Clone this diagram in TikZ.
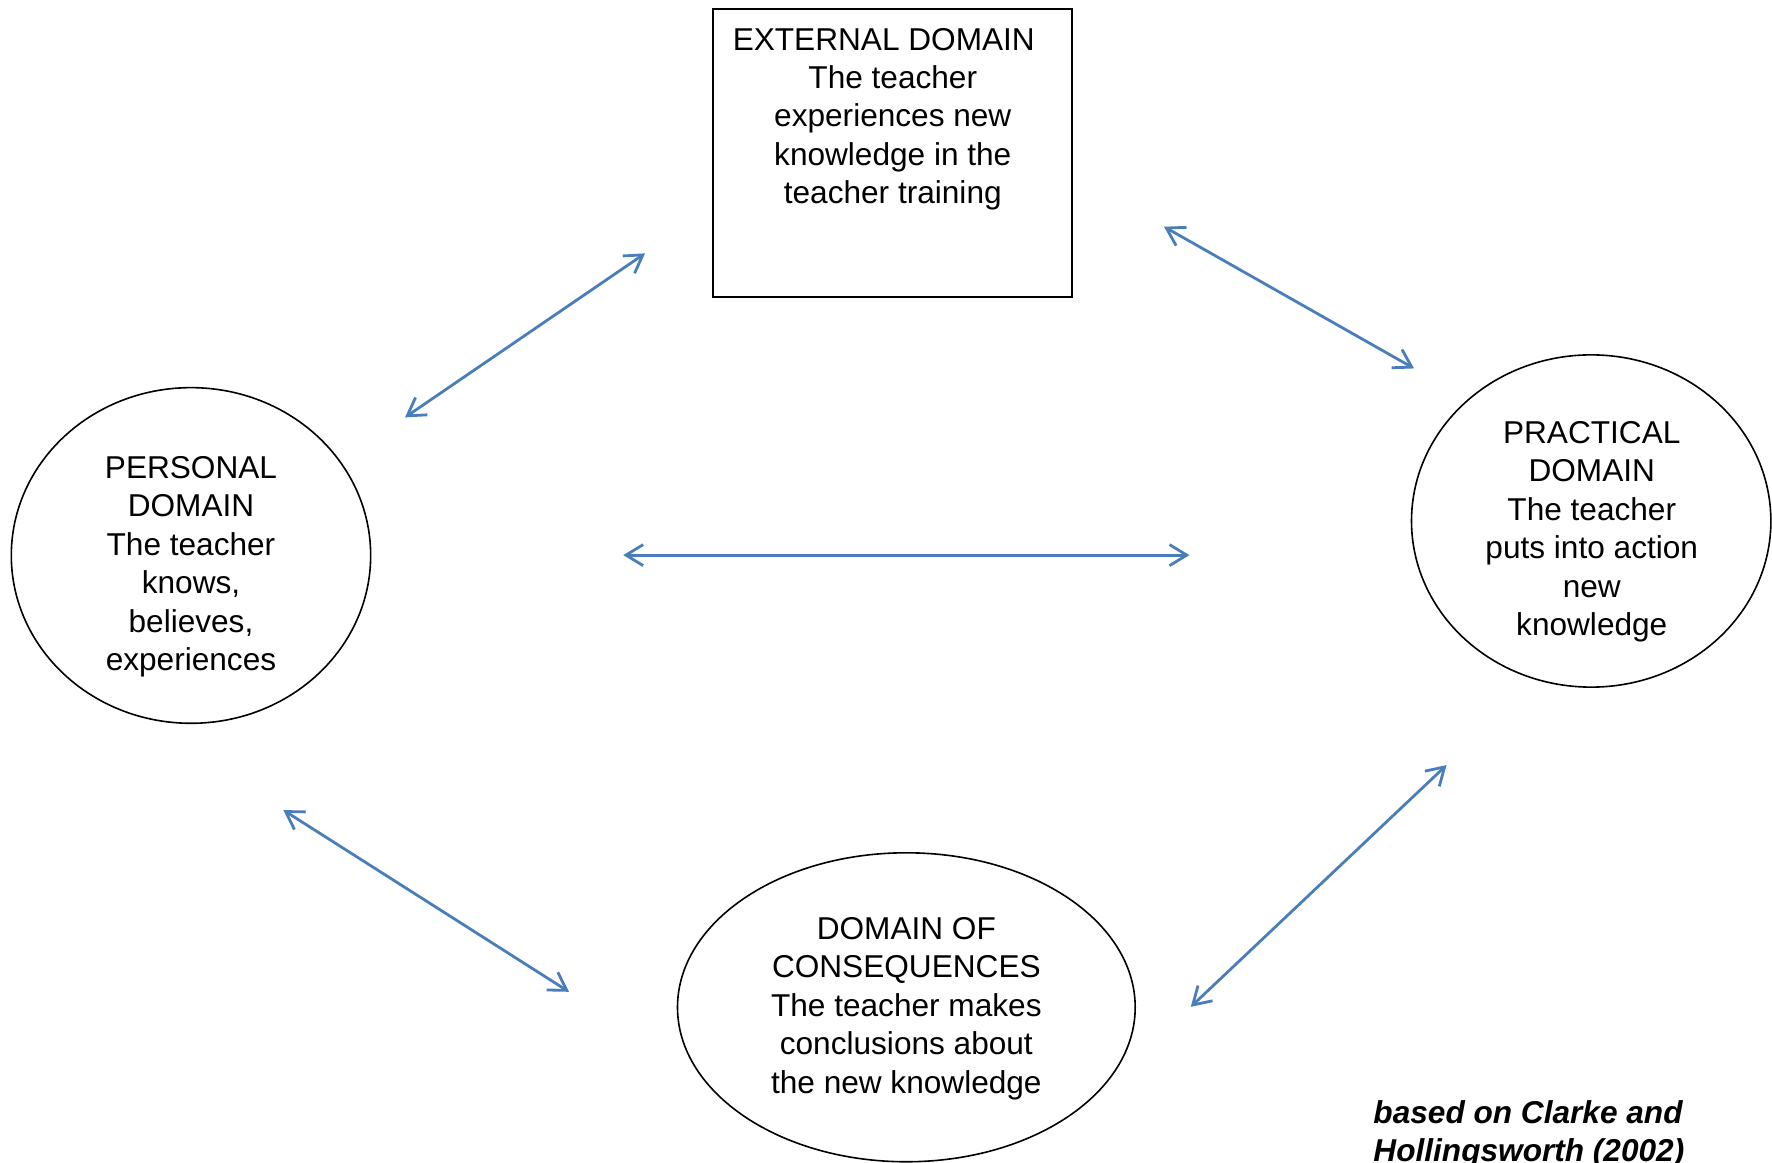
\documentclass[tikz,border=0pt]{standalone}
\usepackage{fontspec}
\setmainfont{Liberation Sans}
\usetikzlibrary{shapes.geometric,arrows.meta}
\definecolor{arrowblue}{RGB}{74,126,187}
\newcommand\firststrut{\rule{0pt}{14pt}}
\begin{document}
\begin{tikzpicture}[x=0.565pt,y=-0.565pt,
  domaintext/.style={inner sep=0pt,align=center,anchor=north,yshift=14pt,
    font=\fontsize{15.8}{19.2}\selectfont},
  domainellipse/.style={draw=black,line width=0.8pt,ellipse,inner sep=0pt},
  domainbox/.style={draw=black,line width=1pt,rectangle,inner sep=0pt,
    minimum width=318*0.565pt,minimum height=255*0.565pt},
  biarrow/.style={draw=arrowblue,line width=1.4pt,
    {Straight Barb[length=8.6pt,width=10.5pt]}-{Straight Barb[length=8.6pt,width=10.5pt]}}
]
\useasboundingbox (0,0) rectangle (1568,1029);

% shapes
\node[domainbox] (external) at (790,135.5) {};
\node[domainellipse,minimum width=318*0.565pt,minimum height=297*0.565pt] (personal) at (169,491.5) {};
\node[domainellipse,minimum width=318*0.565pt,minimum height=294*0.565pt] (practical) at (1408,461) {};
\node[domainellipse,minimum width=405*0.565pt,minimum height=273.4*0.565pt] (consequences) at (802,891.3) {};

% texts
\node[domaintext] (externaltext) at (790,44)
  {\firststrut EXTERNAL DOMAIN\hspace*{9pt}\\The teacher\\experiences new\\knowledge in the\\teacher training};
\node[domaintext] (personaltext) at (169,423)
  {\firststrut PERSONAL\\DOMAIN\\The teacher\\knows,\\believes,\\experiences};
\node[domaintext] (practicaltext) at (1408.5,392)
  {\firststrut PRACTICAL\\DOMAIN\\The teacher\\puts into action\\new\\knowledge};
\node[domaintext] (consequencestext) at (802,831)
  {\firststrut DOMAIN OF\\CONSEQUENCES\\The teacher makes\\conclusions about\\the new knowledge};
\node[domaintext,align=left,anchor=north west,font=\fontsize{15.8}{19.2}\selectfont\bfseries\itshape] (citation) at (1215,993.5)
  {\firststrut based on Clarke and\\Hollingsworth (2002)};

% arrow end points
\coordinate (a1s) at (358.4,369.3);
\coordinate (a1e) at (570.8,224.2);
\coordinate (a2s) at (1030,200.6);
\coordinate (a2e) at (1251.3,326);
\coordinate (a3s) at (551.5,491.2);
\coordinate (a3e) at (1052.5,491.2);
\coordinate (a4s) at (250.7,716.8);
\coordinate (a4e) at (503.5,877.6);
\coordinate (a5s) at (1053.7,890.9);
\coordinate (a5e) at (1280,677);

\draw[biarrow] (a1s) -- (a1e);
\draw[biarrow] (a2s) -- (a2e);
\draw[biarrow] (a3s) -- (a3e);
\draw[biarrow] (a4s) -- (a4e);
\draw[biarrow] (a5s) -- (a5e);
\end{tikzpicture}
\end{document}
